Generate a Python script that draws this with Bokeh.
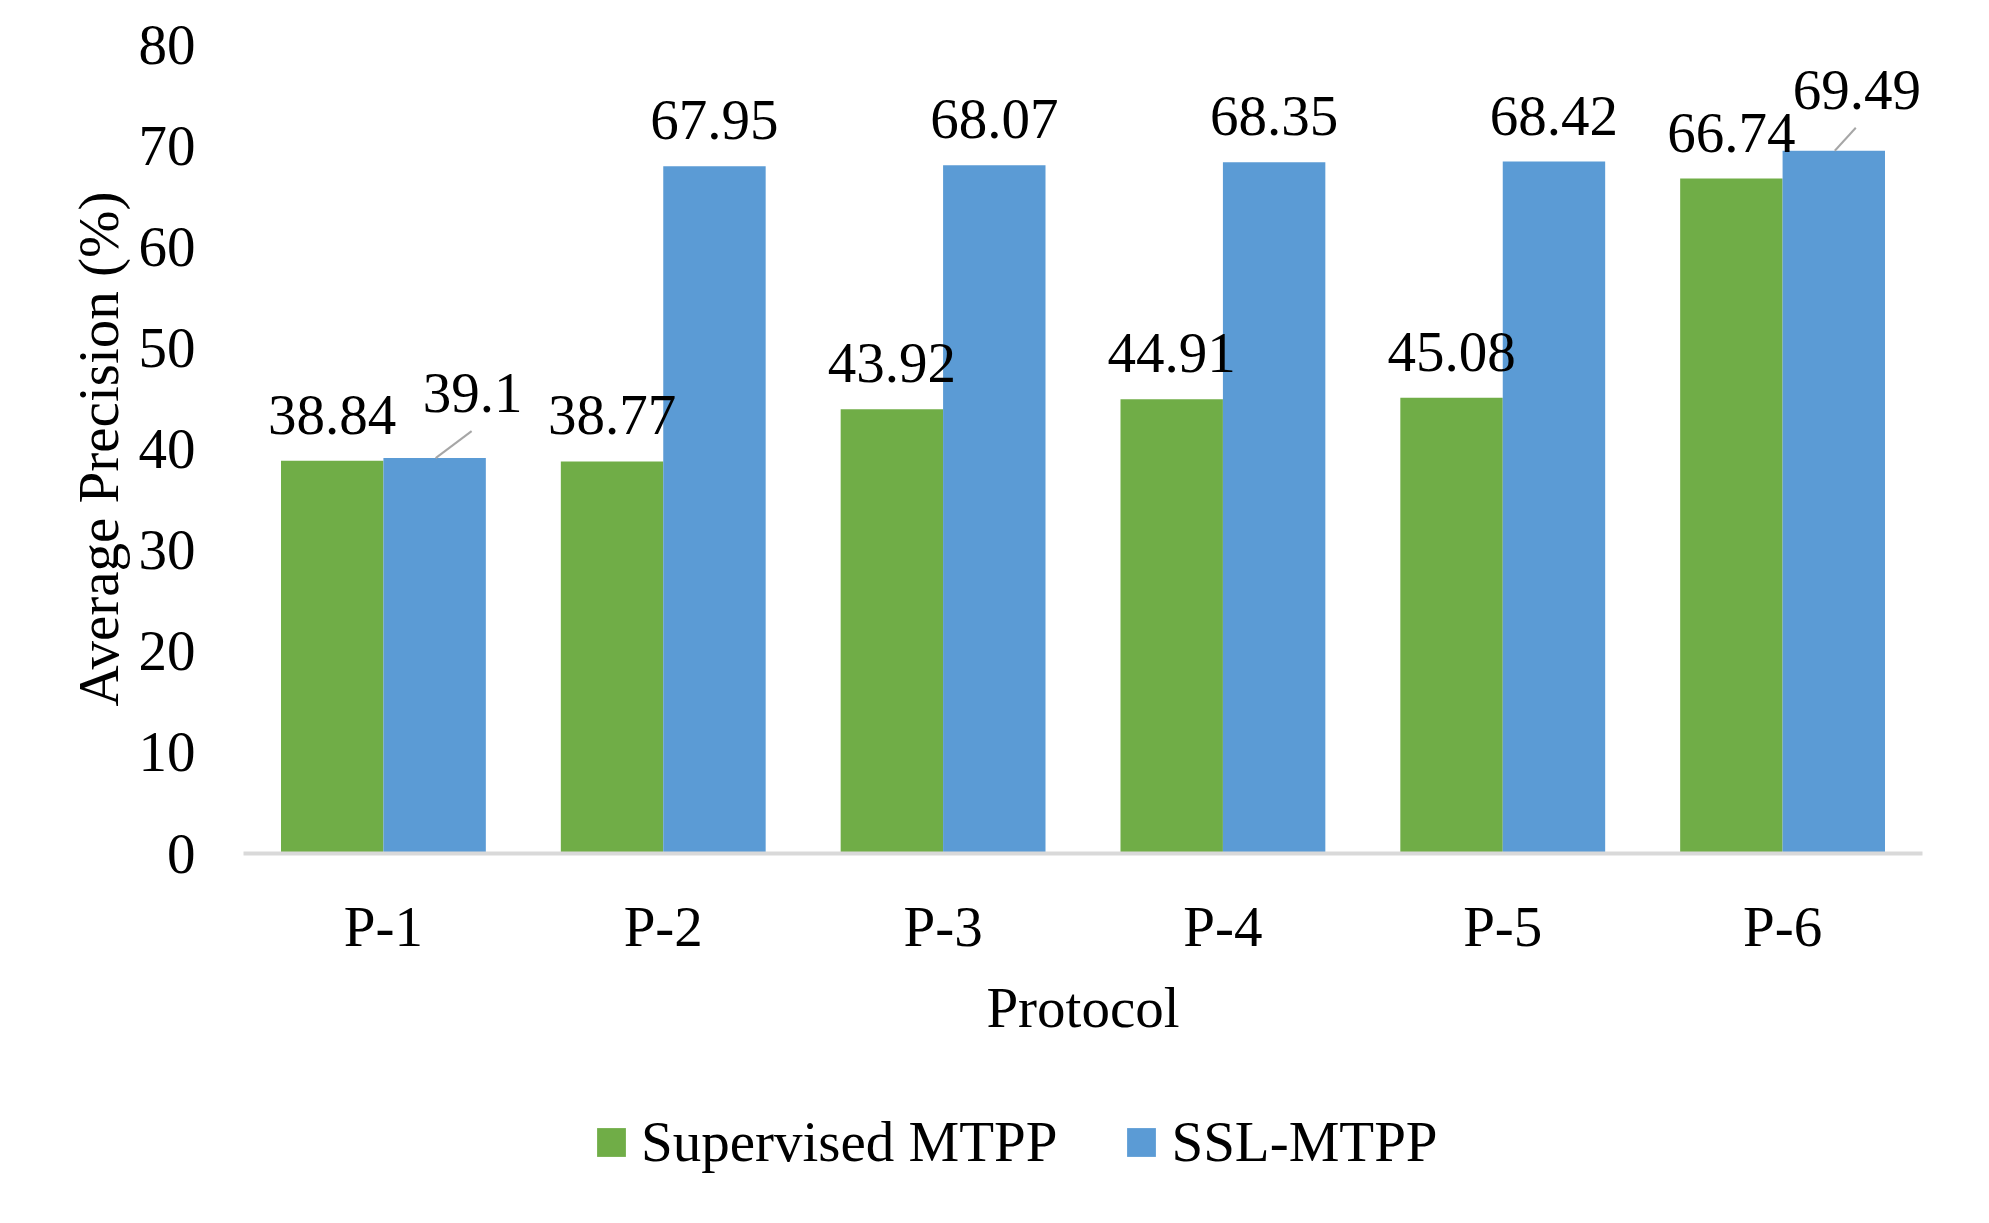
from bokeh.plotting import figure
from bokeh.layouts import column
from bokeh.models import (ColumnDataSource, FactorRange, Range1d, FixedTicker,
                          LabelSet, Legend, LegendItem)
from bokeh.transform import dodge
from bokeh.core.properties import value
from bokeh.embed import file_html
from bokeh.resources import INLINE

# ---------------- data ----------------
protocols = ["P-1", "P-2", "P-3", "P-4", "P-5", "P-6"]
supervised_mtpp = [38.84, 38.77, 43.92, 44.91, 45.08, 66.74]
ssl_mtpp = [39.1, 67.95, 68.07, 68.35, 68.42, 69.49]
y_ticks = [0, 10, 20, 30, 40, 50, 60, 70, 80]
series_names = ["Supervised MTPP", "SSL-MTPP"]

# ---------------- style ----------------
FONT = "Liberation Serif"
FS = "57px"
GREEN = "#70ad47"
BLUE = "#5b9bd5"
BAR_W = 0.366
OFF = BAR_W / 2
LABEL_DY = 46            # px above bar top for data labels
# labels pushed away from their bar with a leader line: (series, protocol) -> (dx, dy) px
LEADER = {("SSL-MTPP", "P-1"): (38, 65), ("SSL-MTPP", "P-6"): (23, 61)}

W = 1970
H_MAIN, H_LEG = 1050, 150
BL, BR, BT, BB = 243, 48, 44, 197

p = figure(width=W, height=H_MAIN, output_backend="svg", toolbar_location=None,
           x_range=FactorRange(*protocols), y_range=Range1d(0, 80),
           min_border_left=BL, min_border_right=BR, min_border_top=BT,
           min_border_bottom=BB)
p.outline_line_color = None
p.xgrid.grid_line_color = None
p.ygrid.grid_line_color = None
p.background_fill_color = "white"
p.border_fill_color = "white"

src = ColumnDataSource(dict(cat=protocols, sup=supervised_mtpp, ssl=ssl_mtpp))
p.vbar(x=dodge("cat", -OFF, range=p.x_range), top="sup", bottom=0,
       width=BAR_W, source=src, fill_color=GREEN, line_color=None)
p.vbar(x=dodge("cat", OFF, range=p.x_range), top="ssl", bottom=0,
       width=BAR_W, source=src, fill_color=BLUE, line_color=None)

# frame scale: px per data unit
px_per_y = (H_MAIN - BT - BB) / 80.0
px_per_x = (W - BL - BR) / len(protocols)

for name, vals, off in [("Supervised MTPP", supervised_mtpp, -OFF),
                        ("SSL-MTPP", ssl_mtpp, OFF)]:
    xo, yo, txt = [], [], []
    seg_cat, seg_y0, seg_y1, seg_dx = [], [], [], []
    for c, v in zip(protocols, vals):
        txt.append(f"{v:g}")
        if (name, c) in LEADER:
            dx, dy = LEADER[(name, c)]
            xo.append(dx)
            yo.append(dy)
            seg_cat.append(c)
            seg_y0.append(v)
            seg_y1.append(v + (dy - 38) / px_per_y)
            seg_dx.append(dx - 1)
        else:
            xo.append(0)
            yo.append(LABEL_DY)
    lsrc = ColumnDataSource(dict(cat=protocols, v=vals, t=txt, xo=xo, yo=yo))
    p.add_layout(LabelSet(x=dodge("cat", off, range=p.x_range), y="v", text="t",
                          x_offset="xo", y_offset="yo", source=lsrc,
                          text_font=value(FONT), text_font_size=value(FS),
                          text_color="black", text_align="center",
                          text_baseline="middle"))
    for c, y0, y1, dx in zip(seg_cat, seg_y0, seg_y1, seg_dx):
        ssrc = ColumnDataSource(dict(cat=[c], y0=[y0], y1=[y1]))
        p.segment(x0=dodge("cat", off + 1.0 / px_per_x, range=p.x_range), y0="y0",
                  x1=dodge("cat", off + dx / px_per_x, range=p.x_range), y1="y1",
                  source=ssrc, line_color="#a6a6a6", line_width=2)

# ---------------- axes ----------------
p.yaxis.ticker = FixedTicker(ticks=y_ticks)
p.yaxis.axis_line_color = None
p.yaxis.major_tick_line_color = None
p.yaxis.minor_tick_line_color = None
p.yaxis.major_label_standoff = 42
p.yaxis.major_label_text_font = FONT
p.yaxis.major_label_text_font_size = FS
p.yaxis.major_label_text_color = "black"
p.yaxis.axis_label = "Average Precision (%)"
p.yaxis.axis_label_text_font = FONT
p.yaxis.axis_label_text_font_size = FS
p.yaxis.axis_label_text_font_style = "normal"
p.yaxis.axis_label_text_color = "black"
p.yaxis.axis_label_standoff = 6

p.xaxis.axis_line_color = "#d9d9d9"
p.xaxis.axis_line_width = 4
p.xaxis.major_tick_line_color = None
p.xaxis.minor_tick_line_color = None
p.xaxis.major_label_standoff = 35
p.xaxis.major_label_text_font = FONT
p.xaxis.major_label_text_font_size = FS
p.xaxis.major_label_text_color = "black"
p.xaxis.axis_label = "Protocol"
p.xaxis.axis_label_text_font = FONT
p.xaxis.axis_label_text_font_size = FS
p.xaxis.axis_label_text_font_style = "normal"
p.xaxis.axis_label_text_color = "black"
p.xaxis.axis_label_standoff = 15

# ---------------- legend strip (second figure, no axes) ----------------
# same bars, drawn into a y-window far above the data so only the legend shows
lg = figure(width=W, height=H_LEG, output_backend="svg", toolbar_location=None,
            x_range=FactorRange(*protocols), y_range=Range1d(1000, 1001),
            x_axis_location=None, y_axis_location=None, min_border=0)
lg.outline_line_color = None
lg.xgrid.grid_line_color = None
lg.ygrid.grid_line_color = None
k_sup = lg.vbar(x=dodge("cat", -OFF, range=lg.x_range), top="sup", bottom=0,
                width=BAR_W, source=src, fill_color=GREEN, line_color=None)
k_ssl = lg.vbar(x=dodge("cat", OFF, range=lg.x_range), top="ssl", bottom=0,
                width=BAR_W, source=src, fill_color=BLUE, line_color=None)
legend = Legend(items=[LegendItem(label=series_names[0], renderers=[k_sup], index=0),
                       LegendItem(label=series_names[1], renderers=[k_ssl], index=0)],
                orientation="horizontal", location=(350, 26),
                label_text_font=FONT, label_text_font_size=FS,
                label_text_color="black", glyph_width=36, glyph_height=36,
                label_standoff=12, spacing=66, padding=0, margin=0,
                border_line_color=None, background_fill_alpha=0)
lg.add_layout(legend, "center")

layout = column(p, lg, spacing=0)
open("out.html", "w").write(file_html(layout, INLINE))
